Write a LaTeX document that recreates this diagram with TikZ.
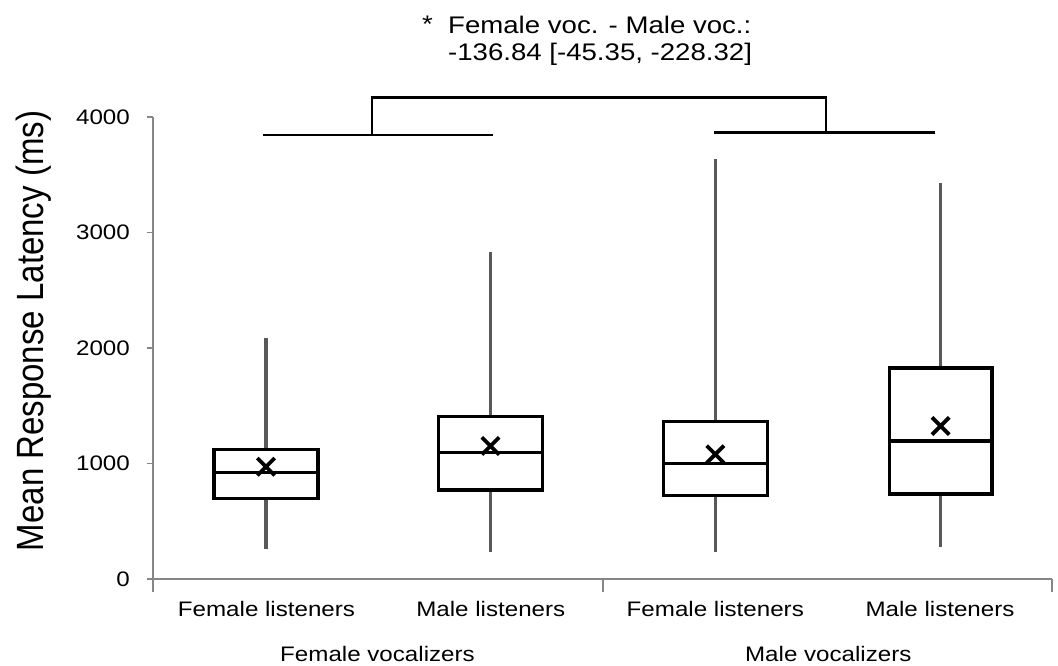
\documentclass[tikz,border=0pt]{standalone}
\usepackage{fontspec}
\setmainfont{Liberation Sans}[FakeStretch=1.15]
\newfontfamily\ylabfont{Liberation Sans}
\usepackage{graphicx}
\usetikzlibrary{shapes.misc}
\definecolor{whiskergray}{HTML}{595959}
\definecolor{axisgray}{HTML}{868686}

\begin{document}
\begin{tikzpicture}[
    x=1pt, y=1pt,
    axis/.style={draw=axisgray, line width=1.6pt},
    whisker/.style={draw=whiskergray, line width=3.5pt},
    box/.style={draw=black, line width=3.5pt},
    meanmark/.style={cross out, draw=black, line width=3.8pt, minimum size=13.5pt, inner sep=0pt},
    bracket/.style={draw=black, line width=2.8pt},
    ticklabel/.style={anchor=east, inner sep=0pt, font=\fontsize{21}{25}\selectfont},
    catlabel/.style={anchor=base, inner sep=0pt, font=\fontsize{21}{25}\selectfont}
]
\useasboundingbox (0,0) rectangle (1058,665);

% y axis label
\node[rotate=90, anchor=base, inner sep=0pt] (ylab) at (43,334)
    {\ylabfont\fontsize{33}{40}\selectfont\scalebox{1}[1.15]{Mean Response Latency (ms)}};

% plot area: 0 ms sits at y=86
\begin{scope}[shift={(0,86)}, yscale=0.1155]

% Axes
\draw[axis] (153,4000) -- (153,-113);
\draw[axis] (153,0) -- (1052,0);
\draw[axis] (603,0) -- (603,-113);
\draw[axis] (1052,0) -- (1052,-113);

% Ticks and their labels
\draw[axis] (147,0) -- (153,0);
\draw[axis] (147,1000) -- (153,1000);
\draw[axis] (147,2000) -- (153,2000);
\draw[axis] (147,3000) -- (153,3000);
\draw[axis] (147,4000) -- (153,4000);
\node[ticklabel] (t0) at (130,0) {0};
\node[ticklabel] (t1000) at (130,1000) {1000};
\node[ticklabel] (t2000) at (130,2000) {2000};
\node[ticklabel] (t3000) at (130,3000) {3000};
\node[ticklabel] (t4000) at (130,4000) {4000};

% Female vocalizers, female listeners
\draw[whisker] (266,1123) -- (266,2084);
\draw[whisker] (266,699) -- (266,262);
\draw[box] (214,699) rectangle (318,1123);
\draw[box] (214,924) -- (318,924);
\node[meanmark] (mean1) at (266,972) {};

% Female vocalizers, male listeners
\draw[whisker] (490.5,1405) -- (490.5,2834);
\draw[whisker] (490.5,771) -- (490.5,236);
\draw[box] (438.5,771) rectangle (542.5,1405);
\draw[box] (438.5,1097) -- (542.5,1097);
\node[meanmark] (mean2) at (490.5,1152) {};

% Male vocalizers, female listeners
\draw[whisker] (715.3,1362) -- (715.3,3634);
\draw[whisker] (715.3,721) -- (715.3,234);
\draw[box] (663.3,721) rectangle (767.3,1362);
\draw[box] (663.3,1002) -- (767.3,1002);
\node[meanmark] (mean3) at (715.3,1080) {};

% Male vocalizers, male listeners
\draw[whisker] (940.6,1829) -- (940.6,3426);
\draw[whisker] (940.6,736) -- (940.6,274);
\draw[box] (889.3,736) rectangle (992,1829);
\draw[box] (889.3,1195) -- (992,1195);
\node[meanmark] (mean4) at (940.6,1325) {};

% Comparison bracket
\coordinate (fvL) at (263,3844);
\coordinate (fvR) at (493,3844);
\coordinate (fvMid) at (372,3844);
\coordinate (mvL) at (714,3864);
\coordinate (mvR) at (935,3864);
\coordinate (mvMid) at (826,3864);
\draw[bracket] (fvL) -- (fvR);
\draw[bracket] (mvL) -- (mvR);
\draw[bracket] (fvMid) -- ++(0,323) -| (mvMid);

\end{scope}

% Category labels
\node[catlabel] (fl1) at (266.5,49) {Female listeners};
\node[catlabel] (ml1) at (490.8,49) {Male listeners};
\node[catlabel] (fl2) at (715.3,49) {Female listeners};
\node[catlabel] (ml2) at (940,49) {Male listeners};
\node[catlabel] (fvoc) at (377.5,4) {Female vocalizers};
\node[catlabel] (mvoc) at (828.3,4) {Male vocalizers};

% Difference annotation
\node[anchor=base west, inner sep=0pt, font=\fontsize{24}{26.7}\selectfont] (star) at (422,632) {*};
\node[anchor=north west, inner sep=0pt, align=left, font=\fontsize{24}{26.7}\selectfont] (diff) at (448,649)
    {Female voc. - Male voc.:\\-136.84 [-45.35, -228.32]};

\end{tikzpicture}
\end{document}
